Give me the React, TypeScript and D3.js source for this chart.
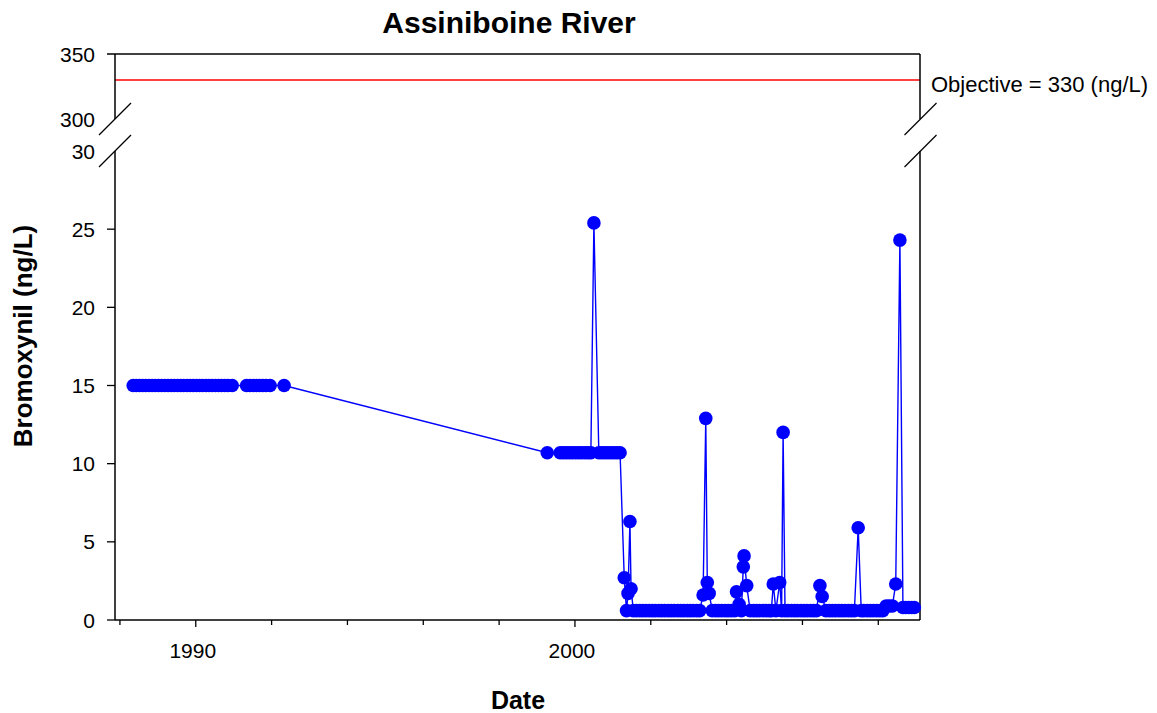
import React from 'react';
import * as d3 from 'd3';

const W = 1157;
const H = 713;
const FONT = "'Liberation Sans', Arial, Helvetica, sans-serif";

// ---- Data (decimal year, Bromoxynil ng/L) ----
const period1Dates = [
  1988.35, 1988.43, 1988.52, 1988.6, 1988.68, 1988.77, 1988.85, 1988.93,
  1989.02, 1989.1, 1989.18, 1989.27, 1989.35, 1989.43, 1989.52, 1989.6, 1989.68, 1989.77, 1989.85, 1989.93,
  1990.02, 1990.1, 1990.18, 1990.27, 1990.35, 1990.43, 1990.52, 1990.6, 1990.68, 1990.77, 1990.85, 1990.96,
  1991.34, 1991.43, 1991.52, 1991.6, 1991.68, 1991.77, 1991.85, 1991.96,
  1992.33,
];
const period1Values = [
  15, 15, 15, 15, 15, 15, 15, 15,
  15, 15, 15, 15, 15, 15, 15, 15, 15, 15, 15, 15,
  15, 15, 15, 15, 15, 15, 15, 15, 15, 15, 15, 15,
  15, 15, 15, 15, 15, 15, 15, 15,
  15,
];

const period2Dates = [
  1999.27, 1999.61, 1999.69, 1999.77, 1999.85, 1999.93,
  2000.02, 2000.1, 2000.18, 2000.27, 2000.35, 2000.42, 2000.5, 2000.63, 2000.71, 2000.79, 2000.87, 2000.95,
  2001.03, 2001.11, 2001.19,
];
const period2Values = [
  10.7, 10.7, 10.7, 10.7, 10.7, 10.7,
  10.7, 10.7, 10.7, 10.7, 10.7, 10.7, 25.4, 10.7, 10.7, 10.7, 10.7, 10.7,
  10.7, 10.7, 10.7,
];

const dates2001 = [2001.3, 2001.36, 2001.4, 2001.45, 2001.48, 2001.54, 2001.62, 2001.71, 2001.79, 2001.87, 2001.96];
const values2001 = [2.7, 0.6, 1.7, 6.3, 2.0, 0.6, 0.6, 0.6, 0.6, 0.6, 0.6];

const dates2002 = [2002.04, 2002.12, 2002.21, 2002.29, 2002.37, 2002.46, 2002.54, 2002.62, 2002.71, 2002.79, 2002.87, 2002.96];
const values2002 = [0.6, 0.6, 0.6, 0.6, 0.6, 0.6, 0.6, 0.6, 0.6, 0.6, 0.6, 0.6];

const dates2003 = [2003.04, 2003.12, 2003.21, 2003.29, 2003.38, 2003.45, 2003.49, 2003.54, 2003.62, 2003.71, 2003.79, 2003.87, 2003.96];
const values2003 = [0.6, 0.6, 0.6, 0.6, 1.6, 12.9, 2.4, 1.7, 0.6, 0.6, 0.6, 0.6, 0.6];

const dates2004 = [2004.04, 2004.12, 2004.21, 2004.26, 2004.33, 2004.39, 2004.44, 2004.46, 2004.53, 2004.62, 2004.71, 2004.79, 2004.87, 2004.96];
const values2004 = [0.6, 0.6, 0.6, 1.8, 1.0, 0.6, 3.4, 4.1, 2.2, 0.6, 0.6, 0.6, 0.6, 0.6];

const dates2005 = [2005.04, 2005.12, 2005.18, 2005.23, 2005.3, 2005.4, 2005.45, 2005.49, 2005.54, 2005.62, 2005.71, 2005.79, 2005.87, 2005.96];
const values2005 = [0.6, 0.6, 0.6, 2.3, 0.6, 2.4, 0.6, 12.0, 0.6, 0.6, 0.6, 0.6, 0.6, 0.6];

const dates2006 = [2006.04, 2006.12, 2006.21, 2006.29, 2006.37, 2006.46, 2006.52, 2006.62, 2006.71, 2006.79, 2006.87, 2006.96];
const values2006 = [0.6, 0.6, 0.6, 0.6, 0.6, 2.2, 1.5, 0.6, 0.6, 0.6, 0.6, 0.6];

const dates2007 = [2007.04, 2007.12, 2007.21, 2007.29, 2007.37, 2007.47, 2007.55, 2007.62, 2007.71, 2007.79, 2007.87, 2007.96];
const values2007 = [0.6, 0.6, 0.6, 0.6, 0.6, 5.9, 0.6, 0.6, 0.6, 0.6, 0.6, 0.6];

const dates2008 = [2008.04, 2008.12, 2008.21, 2008.29, 2008.37, 2008.46, 2008.57, 2008.65, 2008.72, 2008.8, 2008.88, 2008.95];
const values2008 = [0.6, 0.6, 0.9, 0.9, 0.9, 2.3, 24.3, 0.8, 0.8, 0.8, 0.8, 0.8];

const objectiveValue = 330;
const lowerTicks = [0, 5, 10, 15, 20, 25];
const lowerBreakLabel = 30;
const upperTicks = [300, 350];
const xTickYears = [1988, 1990, 1992, 1994, 1996, 1998, 2000, 2002, 2004, 2006, 2008];
const xLabelYears = [1990, 2000];

const allDates = [
  ...period1Dates, ...period2Dates, ...dates2001, ...dates2002, ...dates2003,
  ...dates2004, ...dates2005, ...dates2006, ...dates2007, ...dates2008,
];
const allValues = [
  ...period1Values, ...period2Values, ...values2001, ...values2002, ...values2003,
  ...values2004, ...values2005, ...values2006, ...values2007, ...values2008,
];

export default function App() {
  const left = 115;
  const right = 920;
  const x = d3.scaleLinear().domain([1987.87, 2009.1]).range([left, right]);
  const yLow = d3.scaleLinear().domain([0, 30]).range([620, 151]);
  const yUp = d3.scaleLinear().domain([300, 350]).range([119, 54]);

  const pts = allDates.map((d, i) => ({ date: d, value: allValues[i] }));
  const line = d3
    .line<{ date: number; value: number }>()
    .x((p) => x(p.date))
    .y((p) => yLow(p.value));

  const blue = '#0000ff';
  const axisW = 1.5;
  const breakTop = yUp(300);
  const breakBot = yLow(30);
  const slash = (cx: number, cy: number, k: string) => (
    <line key={k} x1={cx - 16} y1={cy + 16} x2={cx + 16} y2={cy - 16} stroke="#000" strokeWidth={1.2} />
  );

  return (
    <svg
      width={W}
      height={H}
      style={{ position: 'absolute', left: 0, top: 0, background: '#fff' }}
      fontFamily={FONT}
    >
      <rect x={0} y={0} width={W} height={H} fill="#fff" />
      {/* Title */}
      <text x={509} y={33} textAnchor="middle" fontSize={30} fontWeight="bold">
        Assiniboine River
      </text>

      {/* Objective line */}
      <line x1={left} x2={right} y1={yUp(objectiveValue)} y2={yUp(objectiveValue)} stroke="#ff0000" strokeWidth={1.5} />
      <text x={931} y={92} fontSize={22}>
        Objective = 330 (ng/L)
      </text>

      {/* Frame */}
      <line x1={left} x2={right} y1={yUp(350)} y2={yUp(350)} stroke="#000" strokeWidth={axisW} />
      <line x1={left} x2={right} y1={yLow(0)} y2={yLow(0)} stroke="#000" strokeWidth={axisW} />
      <line x1={left} x2={left} y1={yUp(350)} y2={breakTop} stroke="#000" strokeWidth={axisW} />
      <line x1={left} x2={left} y1={breakBot} y2={yLow(0)} stroke="#000" strokeWidth={axisW} />
      <line x1={right} x2={right} y1={yUp(350)} y2={breakTop} stroke="#000" strokeWidth={axisW} />
      <line x1={right} x2={right} y1={breakBot} y2={yLow(0)} stroke="#000" strokeWidth={axisW} />
      {slash(left, breakTop, 'sl1')}
      {slash(left, breakBot, 'sl2')}
      {slash(right + 0.5, breakTop, 'sr1')}
      {slash(right + 0.5, breakBot, 'sr2')}

      {/* Upper Y ticks */}
      <line x1={left - 8} x2={left} y1={yUp(350)} y2={yUp(350)} stroke="#000" strokeWidth={axisW} />
      {upperTicks.map((t) => (
        <text key={'u' + t} x={95} y={yUp(t)} dy="0.36em" textAnchor="end" fontSize={21}>
          {t}
        </text>
      ))}
      <text x={95} y={yLow(lowerBreakLabel)} dy="0.36em" textAnchor="end" fontSize={21}>
        {lowerBreakLabel}
      </text>

      {/* Lower Y ticks */}
      {lowerTicks.map((t) => (
        <g key={'l' + t}>
          <line x1={left - 8} x2={left} y1={yLow(t)} y2={yLow(t)} stroke="#000" strokeWidth={1.3} />
          <text x={95} y={yLow(t)} dy="0.36em" textAnchor="end" fontSize={21}>
            {t}
          </text>
        </g>
      ))}

      {/* X ticks */}
      {xTickYears.map((yr) => (
        <line
          key={'x' + yr}
          x1={x(yr)}
          x2={x(yr)}
          y1={yLow(0)}
          y2={yLow(0) + (xLabelYears.includes(yr) ? 7 : 5)}
          stroke="#000"
          strokeWidth={1.3}
        />
      ))}
      {xLabelYears.map((yr) => (
        <text key={'xl' + yr} x={x(yr) - 3} y={658} textAnchor="middle" fontSize={21}>
          {yr}
        </text>
      ))}

      {/* Axis titles */}
      <text x={518} y={709} textAnchor="middle" fontSize={25} fontWeight="bold">
        Date
      </text>
      <text
        transform={`translate(32, 336) rotate(-90)`}
        textAnchor="middle"
        fontSize={26}
        fontWeight="bold"
      >
        Bromoxynil (ng/L)
      </text>

      {/* Series */}
      <path d={line(pts) || ''} fill="none" stroke={blue} strokeWidth={1.4} />
      {pts.map((p, i) => (
        <circle key={i} cx={x(p.date)} cy={yLow(p.value)} r={6.8} fill={blue} />
      ))}
    </svg>
  );
}
